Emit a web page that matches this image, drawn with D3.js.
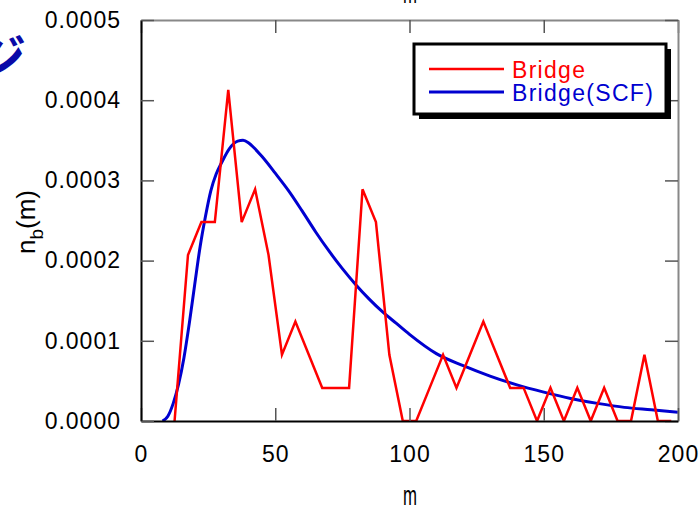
<!DOCTYPE html>
<html>
<head>
<meta charset="utf-8">
<script src="https://cdn.jsdelivr.net/npm/d3@7"></script>
<style>
  body { margin: 0; background: #fff; }
  svg text { font-family: 'Liberation Sans', Arial, sans-serif; }
</style>
</head>
<body>
<div id="chart"></div>
<script>
// bridge length distribution, histogram (bin centres) vs SCF curve
const binM = [12.5, 17.5, 22.5, 27.5, 32.5, 37.5, 42.5, 47.5, 52.5, 57.5,
              62.5, 67.5, 72.5, 77.5, 82.5, 87.5, 92.5, 97.5, 102.5, 107.5,
              112.5, 117.5, 122.5, 127.5, 132.5, 137.5, 142.5, 147.5, 152.5, 157.5,
              162.5, 167.5, 172.5, 177.5, 182.5, 187.5, 192.5, 197.5];
const bridgeVals = [0, 0.000207, 0.000248, 0.000248, 0.000413, 0.000248, 0.000289, 0.000207, 0.0000826, 0.000124,
                    0.0000826, 0.0000413, 0.0000413, 0.0000413, 0.000289, 0.000248, 0.0000826, 0, 0, 0.0000413,
                    0.0000826, 0.0000413, 0.0000826, 0.000124, 0.0000826, 0.0000413, 0.0000413, 0, 0.0000413, 0,
                    0.0000413, 0, 0.0000413, 0, 0, 0.0000826, 0, 0];

const scfM = [8, 10, 12, 14, 16, 18, 20, 22, 24, 26, 28, 30, 33, 36, 38, 40, 42, 45,
              50, 55, 60, 65, 70, 75, 80, 85, 90, 95, 100, 110, 120, 130, 140, 150,
              160, 170, 180, 190, 200];
const scfVals = [0, 0.000006, 0.000022, 0.000046, 0.000079, 0.000122, 0.000170, 0.000217, 0.000255, 0.000287,
                 0.000308, 0.000322, 0.000340, 0.000349, 0.000350, 0.000347, 0.000341, 0.000330,
                 0.000309, 0.000287, 0.000262, 0.000236, 0.000212, 0.000190, 0.000170, 0.000152, 0.000136,
                 0.000122, 0.000108, 0.000084, 0.000069, 0.000056, 0.000045, 0.000036,
                 0.000028, 0.000022, 0.000017, 0.000014, 0.000011];

const xTicks = [0, 50, 100, 150, 200];
const yTicks = [0, 0.0001, 0.0002, 0.0003, 0.0004, 0.0005];
const legendNames = ['Bridge', 'Bridge(SCF)'];
const colors = ['#ff0000', '#0000d0'];

const width = 700, height = 507;
const plotLeft = 141, plotRight = 678, plotTop = 20, plotBottom = 421;

const svg = d3.select('#chart').append('svg')
  .attr('width', width)
  .attr('height', height);

const x = d3.scaleLinear().domain([0, 200]).range([plotLeft, plotRight]);
const y = d3.scaleLinear().domain([0, 0.0005]).range([plotBottom, plotTop]);

// clipped fragments from the neighbouring panels
svg.append('text')
  .attr('x', 26).attr('y', 74)
  .attr('text-anchor', 'end')
  .attr('fill', '#0a0aa8')
  .style('font-family', "'Noto Sans CJK JP'")
  .style('font-weight', 'bold')
  .style('font-size', '48px')
  .text('ジ');
svg.append('text')
  .attr('x', 403).attr('y', 3)
  .attr('textLength', 14).attr('lengthAdjust', 'spacingAndGlyphs')
  .style('font-size', '30px')
  .text('m');

svg.append('clipPath').attr('id', 'plot-clip')
  .append('rect')
  .attr('x', plotLeft).attr('y', plotTop)
  .attr('width', plotRight - plotLeft).attr('height', plotBottom - plotTop);

const plot = svg.append('g').attr('clip-path', 'url(#plot-clip)');

const line = d3.line()
  .x(d => x(d[0]))
  .y(d => y(d[1]));

plot.append('path')
  .datum(scfM.map((m, i) => [m, scfVals[i]]))
  .attr('fill', 'none')
  .attr('stroke', colors[1])
  .attr('stroke-width', 3)
  .attr('d', line.curve(d3.curveMonotoneX));

plot.append('path')
  .datum(binM.map((m, i) => [m, bridgeVals[i]]))
  .attr('fill', 'none')
  .attr('stroke', colors[0])
  .attr('stroke-width', 2.5)
  .attr('stroke-linejoin', 'miter')
  .attr('d', line.curve(d3.curveLinear));

// frame: top and right grey, left and bottom black
const fmt = d3.format('.4f');
const tickStyle = g => {
  g.selectAll('.tick line').attr('stroke', '#555').attr('stroke-width', 1.5);
  g.selectAll('.tick text')
    .style('font-size', '23px')
    .style('letter-spacing', '1px')
    .attr('fill', '#000');
};

svg.append('g')
  .attr('transform', `translate(0,${plotTop})`)
  .call(d3.axisTop(x).tickValues(xTicks).tickSizeInner(-13).tickSizeOuter(0).tickFormat(''))
  .call(g => g.select('.domain').attr('stroke', '#888').attr('stroke-width', 2))
  .call(tickStyle);

svg.append('g')
  .attr('transform', `translate(${plotRight},0)`)
  .call(d3.axisRight(y).tickValues(yTicks).tickSizeInner(-13).tickSizeOuter(0).tickFormat(''))
  .call(g => g.select('.domain').attr('stroke', '#888').attr('stroke-width', 2))
  .call(tickStyle);

svg.append('g')
  .attr('transform', `translate(0,${plotBottom})`)
  .call(d3.axisBottom(x).tickValues(xTicks).tickSizeInner(-13).tickSizeOuter(0).tickPadding(25))
  .call(g => g.select('.domain').attr('stroke', '#000').attr('stroke-width', 2))
  .call(g => g.attr('font-family', null))
  .call(tickStyle);

svg.append('g')
  .attr('transform', `translate(${plotLeft},0)`)
  .call(d3.axisLeft(y).tickValues(yTicks).tickSizeInner(-13).tickSizeOuter(0).tickPadding(20).tickFormat(fmt))
  .call(g => g.select('.domain').attr('stroke', '#000').attr('stroke-width', 2))
  .call(g => g.attr('font-family', null))
  .call(tickStyle);

// axis titles
svg.append('text')
  .attr('x', 403).attr('y', 505)
  .attr('textLength', 14).attr('lengthAdjust', 'spacingAndGlyphs')
  .style('font-size', '28px')
  .text('m');

const yLabel = svg.append('text')
  .attr('transform', 'translate(35,222) rotate(-90)')
  .attr('text-anchor', 'middle')
  .style('font-size', '26px');
yLabel.append('tspan').text('n');
yLabel.append('tspan').attr('dy', 8).style('font-size', '19px').text('b');
yLabel.append('tspan').attr('dy', -8).text('(m)');

// legend with drop shadow
const legend = svg.append('g').attr('transform', 'translate(414,44)');
legend.append('rect')
  .attr('x', 5).attr('y', 5)
  .attr('width', 252).attr('height', 70)
  .attr('fill', '#000');
legend.append('rect')
  .attr('width', 252).attr('height', 70)
  .attr('fill', '#fff')
  .attr('stroke', '#000')
  .attr('stroke-width', 3);

legendNames.forEach((name, i) => {
  const ly = 25 + i * 23;
  legend.append('line')
    .attr('x1', 15).attr('x2', 90)
    .attr('y1', ly).attr('y2', ly)
    .attr('stroke', colors[i])
    .attr('stroke-width', i ? 3 : 2.5);
  legend.append('text')
    .attr('x', 98).attr('y', ly + 9)
    .attr('fill', colors[i])
    .style('font-size', '23px')
    .style('letter-spacing', '1.3px')
    .text(name);
});
</script>
</body>
</html>
